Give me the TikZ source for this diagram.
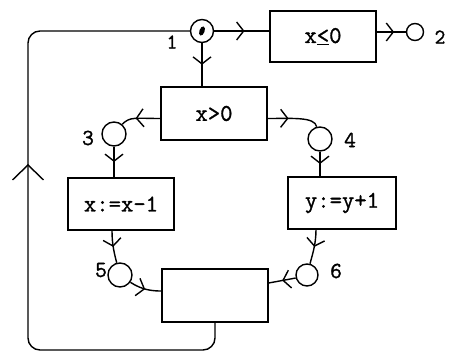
\documentclass[tikz,border=0pt]{standalone}
\usepackage{fontspec}
\newfontfamily\tw{Latin Modern Mono}[FakeBold=1.2]
\usetikzlibrary{arrows.meta,decorations.markings,calc}
\tikzset{
  box/.style={draw, line width=1.4pt, minimum width=106pt, minimum height=52pt, inner sep=0pt,
    font=\tw\fontsize{24}{24}\selectfont},
  state/.style={draw, circle, line width=1.4pt, minimum size=24pt, inner sep=0pt},
  lbl/.style={font=\tw\fontsize{21}{21}\selectfont, inner sep=0pt},
  biglbl/.style={font=\tw\fontsize{23}{23}\selectfont, inner sep=0pt},
  conn/.style={line width=1.4pt, postaction={decorate}, decoration={markings,
    mark=at position #1 with {\arrow{Straight Barb[length=7pt,width=18pt]}}}},
  conn/.default=0.5,
  loopconn/.style={line width=1.4pt, rounded corners=12pt, postaction={decorate}, decoration={markings,
    mark=at position #1 with {\arrow{Straight Barb[length=15pt,width=31pt]}}}}
}
\begin{document}
\begin{tikzpicture}[x=1pt,y=-1pt,line width=1.4pt]
\useasboundingbox (0,0) rectangle (453,353);
% nodes
\node[state, minimum size=23pt] (n1) at (202,31) {};
\fill[rotate around={-20:(n1.center)}] (n1.center) ellipse [x radius=2.6pt, y radius=4.8pt];
\node[box, minimum height=51pt] (b0) at (323,36.5) {x\underline{<}0};
\node[state, minimum size=17pt] (n2) at (415,32) {};
\node[box, minimum height=53pt] (bA) at (214,113.5) {x>0};
\node[state] (n3) at (114,134) {};
\node[state] (n4) at (320,139) {};
\node[box] (bB) at (121,204) {x:=x-1};
\node[box, minimum width=108pt] (bC) at (342,203) {y:=y+1};
\node[state] (n5) at (120,275) {};
\node[state, minimum size=22pt] (n6) at (307,275) {};
\node[box, minimum height=53pt] (bD) at (215,295.5) {};
\coordinate (lb) at (28,350);
% labels
\node[lbl] (l1) at (172,42) {1};
\node[lbl] (l2) at (440,37) {2};
\node[biglbl] (l3) at (88,138) {3};
\node[biglbl] (l4) at (350,140) {4};
\node[biglbl] (l5) at (101,270) {5};
\node[biglbl] (l6) at (336,271) {6};
% connectors
\draw[conn=0.55] (n1.east) -- (n1.east -| b0.west);
\draw[conn=0.6] (b0.east |- n2.west) -- (n2.west);
\draw[conn] (n1.south) -- (n1.south |- bA.north);
\draw[conn=0.62] ($(bA.west)+(0,5)$) .. controls +(-25,0) and +(8,-8) .. (n3.50);
\draw[conn=0.4] ($(bA.east)+(0,5)$) .. controls +(25,0) and +(-2,-10) .. (n4.105);
\draw[conn] (n3.south) -- (n3.south |- bB.north);
\draw[conn] (n4.south) -- (n4.south |- bC.north);
\draw[conn] ($(bB.south)+(-9,0)$) .. controls +(0,15) and +(-2,-8) .. (n5.105);
\draw[conn] ($(bC.south)+(-26,0)$) .. controls +(0,15) and +(2,-8) .. (n6.75);
\draw[conn] (n5.-35) .. controls +(12,8) and +(-8,0) .. ($(bD.west)+(0,-4.5)$);
\draw[conn] (n6.195) -- ($(bD.east)+(0,-12.5)$);
\draw[loopconn=390pt] (bD.south) |- (lb) |- (n1.west);
\end{tikzpicture}
\end{document}
